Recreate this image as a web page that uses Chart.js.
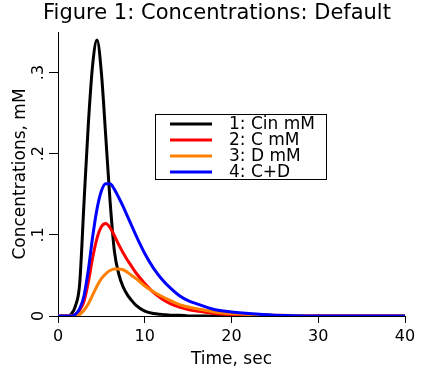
<!DOCTYPE html>
<html>
<head>
<meta charset="utf-8">
<script src="https://cdn.jsdelivr.net/npm/chart.js@4"></script>
<style>
  html, body { margin: 0; padding: 0; background: #fff; }
  #wrap { width: 425px; height: 370px; }
</style>
</head>
<body>
<div id="wrap"><canvas id="chart" width="425" height="370"></canvas></div>
<script>
// Time points (sec)
const times = [0, 1, 1.5, 2, 2.5, 3, 3.5, 4, 4.5, 5, 5.5, 6, 6.5, 7, 7.5, 8, 8.5, 9,
  10, 11, 12, 13, 14, 15, 16, 18, 20, 22, 25, 30, 35, 40];

// Series values (mM)
const cin = [0, 0, 0.002, 0.012, 0.04, 0.14, 0.237, 0.31, 0.34, 0.30, 0.222, 0.142, 0.08, 0.052, 0.036, 0.026, 0.019, 0.013,
  0.006, 0.003, 0.002, 0.001, 0.001, 0, 0, 0, 0, 0, 0, 0, 0, 0];
const cC = [0, 0, 0, 0.002, 0.007, 0.018, 0.042, 0.072, 0.096, 0.110, 0.114, 0.109, 0.099, 0.088, 0.078, 0.069, 0.061, 0.053,
  0.040, 0.029, 0.021, 0.015, 0.011, 0.008, 0.006, 0.003, 0.002, 0.001, 0, 0, 0, 0];
const cD = [0, 0, 0, 0, 0.002, 0.007, 0.015, 0.026, 0.037, 0.046, 0.052, 0.056, 0.058, 0.058, 0.057, 0.054, 0.050, 0.046,
  0.037, 0.030, 0.024, 0.019, 0.014, 0.011, 0.009, 0.005, 0.003, 0.002, 0.001, 0, 0, 0];
const cCD = [0, 0, 0, 0.002, 0.009, 0.025, 0.057, 0.098, 0.132, 0.154, 0.163, 0.163, 0.156, 0.146, 0.135, 0.123, 0.111, 0.099,
  0.077, 0.059, 0.045, 0.034, 0.025, 0.019, 0.015, 0.008, 0.005, 0.003, 0.001, 0, 0, 0];

const seriesNames = ['1: Cin mM', '2: C mM', '3: D mM', '4: C+D'];
const seriesColors = ['#000000', '#ff0000', '#ff8000', '#0000ff'];

// Tick labels
const xTicks = [0, 10, 20, 30, 40];
const yTickValues = [0, 0.1, 0.2, 0.3];
const yTickLabels = ['0', '.1', '.2', '.3'];

const titleText = 'Figure 1: Concentrations: Default';
const font = 'DejaVu Sans';

function toPoints(vals) {
    return vals.map((v, i) => ({ x: times[i], y: v }));
}

// title centred on the whole canvas, y tick labels rotated
const textPlugin = {
    id: 'texts',
    afterDraw(chart) {
        const ctx = chart.ctx;
        const y = chart.scales.y;
        ctx.save();
        ctx.fillStyle = '#000';
        ctx.font = '21px "' + font + '"';
        ctx.textAlign = 'center';
        ctx.textBaseline = 'alphabetic';
        ctx.fillText(titleText, 217, 19);

        ctx.font = '16px "' + font + '"';
        ctx.textBaseline = 'middle';
        yTickValues.forEach((v, i) => {
            ctx.save();
            ctx.translate(39, y.getPixelForValue(v));
            ctx.rotate(-Math.PI / 2);
            ctx.fillText(yTickLabels[i], 0, 0);
            ctx.restore();
        });
        ctx.restore();
    }
};

// legend box inside the plot
const legendBoxPlugin = {
    id: 'legendBox',
    afterDraw(chart) {
        const ctx = chart.ctx;
        ctx.save();
        ctx.fillStyle = '#fff';
        ctx.fillRect(155, 114, 172, 66);
        ctx.strokeStyle = '#000';
        ctx.lineWidth = 1;
        ctx.strokeRect(155.5, 114.5, 171, 65);
        ctx.font = '17px "' + font + '"';
        ctx.textAlign = 'left';
        ctx.textBaseline = 'middle';
        seriesNames.forEach((name, i) => {
            const yy = 124 + i * 16;
            ctx.strokeStyle = seriesColors[i];
            ctx.lineWidth = 3;
            ctx.beginPath();
            ctx.moveTo(170, yy);
            ctx.lineTo(212, yy);
            ctx.stroke();
            ctx.fillStyle = '#000';
            ctx.fillText(name, 229, yy + 1);
        });
        ctx.restore();
    }
};

const datasets = [cin, cC, cD, cCD].map((vals, i) => ({
    label: seriesNames[i],
    data: toPoints(vals),
    borderColor: seriesColors[i],
    backgroundColor: seriesColors[i],
    borderWidth: 3,
    pointRadius: 0,
    cubicInterpolationMode: 'monotone',
    fill: false,
    order: 4 - i // blue drawn on top
}));

new Chart(document.getElementById('chart'), {
    type: 'line',
    data: { datasets: datasets },
    options: {
        responsive: false,
        animation: false,
        events: [],
        layout: { padding: { left: 0, right: 20, top: 32, bottom: 0 } },
        plugins: {
            legend: { display: false },
            tooltip: { enabled: false },
            title: { display: false }
        },
        scales: {
            x: {
                type: 'linear',
                min: 0,
                max: 40,
                afterFit: s => { s.height = 54; },
                afterBuildTicks: s => { s.ticks = xTicks.map(v => ({ value: v })); },
                border: { display: true, color: '#000', width: 1 },
                grid: { display: true, drawOnChartArea: false, drawTicks: true, tickLength: 7, color: '#000' },
                ticks: { color: '#000', font: { family: font, size: 16 }, padding: 4, maxRotation: 0 },
                title: {
                    display: true,
                    text: 'Time, sec',
                    color: '#000',
                    font: { family: font, size: 17 },
                    padding: { top: 0, bottom: 0 }
                }
            },
            y: {
                min: 0,
                max: 0.35,
                afterFit: s => { s.width = 58; },
                afterBuildTicks: s => { s.ticks = yTickValues.map(v => ({ value: v })); },
                border: { display: true, color: '#000', width: 1 },
                grid: { display: true, drawOnChartArea: false, drawTicks: true, tickLength: 9, color: '#000' },
                ticks: { display: false },
                title: {
                    display: true,
                    text: 'Concentrations, mM',
                    color: '#000',
                    font: { family: font, size: 17 },
                    padding: { top: 10, bottom: 0 }
                }
            }
        }
    },
    plugins: [textPlugin, legendBoxPlugin]
});
</script>
</body>
</html>
